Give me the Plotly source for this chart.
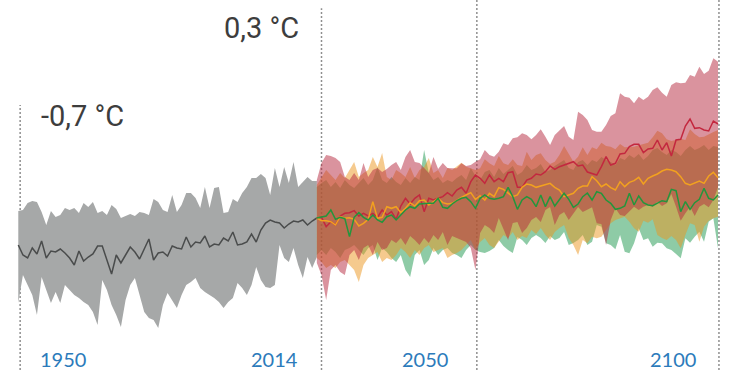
import plotly.graph_objects as go

# ---------------- data (°C anomaly) ----------------
hist_years = list(range(1950, 2015))
fut_years = list(range(2014, 2101))

hist_upper = [0.54,0.57,0.78,0.84,0.81,0.51,0.12,0.54,0.36,0.42, 0.63,0.57,0.63,0.48,0.78,0.66,0.81,0.48,0.54,0.42,
              0.72,0.60,0.33,0.39,0.45,0.39,0.51,0.48,0.42,0.90, 0.81,0.57,0.51,1.02,0.51,0.72,1.08,1.08,0.93,0.63,
              1.26,0.63,1.23,1.26,0.48,0.51,0.90,0.81,1.08,1.26, 1.53,1.53,1.65,1.53,1.02,1.83,1.26,1.86,1.38,2.01,
              1.26,1.41,1.56,1.44,1.44]
hist_lower = [-2.22,-1.38,-1.68,-1.98,-2.58,-1.44,-1.83,-2.22,-1.89,-2.22, -1.68,-1.83,-1.98,-2.07,-2.19,-2.28,-2.49,-2.88,-1.53,-1.83,
              -2.28,-2.58,-2.94,-2.13,-1.68,-1.47,-1.98,-2.49,-2.67,-2.73, -2.97,-2.28,-1.92,-2.13,-2.37,-1.98,-1.68,-1.59,-1.47,-1.77,
              -1.89,-1.98,-2.07,-2.19,-2.37,-2.19,-2.07,-1.62,-1.77,-1.98, -1.68,-1.14,-1.53,-1.74,-1.77,-1.68,-0.48,-0.87,-0.99,-0.57,
              -1.08,-1.47,-0.84,-1.17,-0.84]
hist_mean = [-0.48,-0.78,-0.87,-0.57,-0.75,-0.36,-0.87,-0.66,-0.69,-0.60, -0.72,-0.87,-1.08,-0.66,-0.96,-0.84,-0.75,-0.51,-0.51,-0.93,
             -1.35,-0.78,-1.02,-0.78,-0.54,-0.69,-0.90,-0.60,-0.30,-0.93, -0.72,-0.69,-0.81,-0.51,-0.57,-0.60,-0.24,-0.54,-0.39,-0.42,
             -0.21,-0.54,-0.45,-0.48,-0.27,-0.36,-0.09,-0.48,-0.45,-0.39, -0.15,-0.39,-0.03,0.18,0.27,0.21,0.18,0.03,0.15,0.24,
             0.21,0.27,0.12,0.24,0.33]

red_upper = [1.47,1.98,2.22,2.19,2.13,2.01,1.56,1.47,1.68,1.47, 1.98,1.56,1.77,1.83,1.71,1.80,1.92,2.01,1.77,2.16,
             2.37,2.01,1.98,1.83,1.68,2.16,1.80,1.98,1.83,1.82, 1.82,1.97,1.89,1.92,2.02,2.09,2.37,2.22,2.17,2.32,
             2.57,2.52,2.72,2.75,2.87,2.82,2.69,2.82,2.99,2.77, 2.52,2.82,2.97,3.09,2.77,2.67,3.52,3.42,3.27,2.97,
             2.92,2.92,3.12,3.39,3.47,4.07,3.97,3.94,3.77,3.97, 3.87,3.97,4.17,4.25,4.09,3.97,4.32,4.40,4.37,4.39,
             4.62,4.57,4.87,4.65,4.75,5.12,5.02]
red_lower = [-1.02,-1.38,-2.13,-1.23,-1.08,-1.29,-1.38,-0.78,-0.63,-0.93, -0.57,-0.48,-0.78,-0.39,-0.63,-0.57,-0.33,-0.42,-0.27,-0.48,
             -0.21,-0.33,-0.48,-0.27,-0.42,-0.18,-0.33,-0.09,-0.48,-0.21, -0.27,-0.33,-0.39,-0.57,-1.23,-0.12,0.12,0.03,-0.12,0.33,
             -0.03,-0.33,0.18,0.21,-0.12,0.03,0.27,0.36,0.21,0.57, 0.66,0.12,0.42,0.51,0.27,0.48,0.66,0.51,0.57,0.65,
             0.17,0.15,-0.48,0.27,0.62,0.42,0.39,0.52,0.67,0.57, 0.67,0.72,0.67,0.82,0.69,0.77,1.05,0.67,0.25,0.47,
             0.67,0.39,0.67,0.75,0.65,0.87,1.25]
red_mean = [0.33,0.35,0.07,0.22,0.12,0.39,0.47,0.49,0.55,0.39, 0.47,0.39,0.47,0.35,0.57,0.42,0.52,0.29,0.69,0.92,
            0.75,0.92,1.02,0.52,0.92,0.87,0.92,0.97,1.09,0.99, 1.17,1.25,1.07,1.42,1.62,1.52,1.37,1.62,1.42,1.52,
            1.42,1.69,1.72,1.25,1.25,1.47,1.52,1.65,1.62,1.72, 1.89,1.79,1.87,1.92,1.95,2.02,1.89,1.92,1.71,1.67,
            1.62,1.87,2.17,1.92,1.97,2.25,2.27,2.47,2.54,2.54, 2.29,2.40,2.42,2.67,2.37,2.59,2.19,2.67,2.69,3.09,
            3.30,3.02,3.04,2.97,2.94,3.24,3.15]

orange_upper = [1.32,1.56,1.77,1.62,1.47,1.68,1.53,1.77,2.01,1.56, 1.68,1.77,2.16,1.86,2.28,1.56,1.47,1.77,1.68,1.56,
                1.86,1.53,1.77,1.86,2.13,1.68,1.77,1.53,1.83,1.77, 1.87,1.99,1.87,1.82,1.77,1.82,2.09,1.97,1.89,2.19,
                1.97,1.92,2.09,1.92,1.89,2.32,2.07,2.22,2.27,2.07, 1.95,2.02,2.22,2.49,2.27,2.02,2.17,2.45,2.22,2.45,
                2.39,2.59,2.49,2.47,2.39,2.55,2.45,2.45,2.47,2.51, 2.54,2.59,2.75,2.95,2.87,2.69,2.64,2.67,2.71,2.67,
                2.99,2.85,2.75,2.77,2.85,2.91,2.97]
orange_lower = [-0.87,-0.99,-1.17,-1.08,-1.17,-0.99,-0.93,-1.08,-1.23,-1.59, -1.08,-0.87,-0.78,-0.69,-0.99,-0.87,-0.93,-0.78,-0.57,-0.69,
                -0.87,-0.63,-0.78,-0.57,-0.48,-0.69,-0.63,-0.57,-0.87,-0.78, -0.72,-0.63,-0.48,-0.33,-0.63,-0.39,-0.27,-0.48,-0.57,-0.39,
                -0.18,-0.27,-0.09,-0.33,-0.21,-0.27,-0.03,-0.15,0.03,-0.18, -0.33,-0.09,0.03,0.12,-0.27,-0.48,-0.78,-0.33,-0.43,-0.23,
                -0.28,-0.23,-0.03,0.17,0.27,0.32,0.37,0.22,0.02,-0.08, 0.25,0.19,0.29,-0.18,-0.27,-0.33,-0.21,-0.33,-0.58,-0.18,
                0.17,0.12,-0.38,0.07,0.25,0.32,0.37]
orange_mean = [0.33,0.25,0.25,0.22,0.12,0.37,0.32,0.34,0.29,0.09, 0.17,0.29,0.82,0.32,0.35,0.67,0.62,0.67,0.49,0.62,
               0.79,0.69,0.85,0.87,0.72,0.82,0.92,0.79,0.75,0.77, 0.87,0.95,1.02,1.09,0.89,1.00,0.87,1.07,0.97,1.24,
               1.19,1.07,0.97,1.02,1.25,1.35,1.32,1.25,1.29,1.32, 1.37,1.25,1.17,0.97,1.02,1.07,1.22,1.29,1.29,1.57,
               1.45,1.27,1.35,1.24,1.17,1.42,1.27,1.40,1.45,1.55, 1.35,1.52,1.59,1.65,1.74,1.79,1.77,1.72,1.57,1.37,
               1.32,1.39,1.44,1.37,1.59,1.70,1.54]

green_upper = [1.26,1.38,1.47,1.26,1.41,1.23,1.47,1.32,1.23,1.38, 1.53,1.32,1.47,1.86,1.47,1.38,1.56,1.41,1.32,1.53,
               1.38,1.56,1.47,2.37,1.68,1.47,1.56,1.38,1.47,1.41, 1.53,1.62,1.47,1.83,1.59,1.47,1.71,1.77,1.56,1.83,
               1.65,1.77,1.89,1.62,1.71,1.92,1.77,1.83,1.95,1.71, 1.77,1.89,1.98,2.07,1.83,1.77,2.01,2.07,1.92,2.07,
               2.01,2.16,2.07,2.01,1.92,2.13,2.07,2.22,2.13,2.25, 2.07,2.19,2.37,2.43,2.31,2.22,2.37,2.31,2.19,2.37,
               2.49,2.37,2.43,2.52,2.37,2.49,2.46]
green_lower = [-0.78,-0.63,-0.78,-0.57,-0.69,-0.87,-0.63,-0.57,-0.48,-0.63, -0.78,-0.57,-0.48,-0.93,-0.57,-0.69,-0.87,-0.99,-0.78,-1.23,
               -1.44,-0.78,-0.63,-1.08,-0.93,-0.57,-0.78,-0.63,-0.57,-0.72, -0.78,-0.87,-0.63,-0.48,-0.63,-0.69,-0.72,-0.66,-0.57,-0.33,
               -0.51,-0.63,-0.72,-0.24,-0.33,-0.48,-0.27,-0.18,-0.27,-0.42, -0.21,-0.33,-0.27,-0.09,-0.48,-0.42,-0.33,-0.18,-0.48,-0.38,
               0.12,0.07,-0.43,-0.48,-0.61,-0.18,-0.68,-0.73,-0.43,0.02, -0.33,-0.28,-0.53,-0.41,-0.43,-0.58,-0.63,-0.75,-0.88,-0.28,
               -0.41,-0.23,-0.08,-0.38,0.22,0.32,-0.58]
green_mean = [0.33,0.37,0.39,0.57,0.29,0.35,0.31,-0.23,0.35,0.49, 0.35,0.27,0.42,0.27,0.20,0.37,0.42,0.27,0.42,0.57,
              0.67,0.62,0.75,0.77,0.77,0.77,0.92,0.65,0.62,0.75, 0.85,0.92,0.95,0.82,0.62,0.92,1.02,0.92,0.89,0.92,
              0.97,1.25,0.97,0.59,0.87,0.97,0.89,0.67,1.02,0.67, 0.97,0.69,0.87,1.07,0.89,0.65,0.75,0.97,1.08,0.87,
              1.12,1.07,0.87,0.77,0.59,0.62,0.69,1.07,0.72,0.99, 0.79,0.72,0.70,0.77,0.85,0.82,1.19,1.15,0.52,0.82,
              0.59,0.79,0.89,1.22,0.92,0.87,1.02]

# marker lines (years) and labels
vline_years = [1950.4, 2015.0, 2048.3, 2100.2]
vline_tops = [0.716, 0.978, 1.0, 1.0]
year_labels = ["1950", "2014", "2050", "2100"]
temp_labels = ["-0,7 °C", "0,3 °C"]

# ---------------- figure ----------------
fig = go.Figure()

def band(x, up, lo, fillcolor):
    fig.add_trace(go.Scatter(x=x, y=up, mode="lines", line=dict(width=0),
                             hoverinfo="skip", showlegend=False))
    fig.add_trace(go.Scatter(x=x, y=lo, mode="lines", line=dict(width=0),
                             fill="tonexty", fillcolor=fillcolor,
                             hoverinfo="skip", showlegend=False))

band(hist_years, hist_upper, hist_lower, "#a6a8a8")
band(fut_years, green_upper, green_lower, "rgba(29,151,77,0.5)")
band(fut_years, orange_upper, orange_lower, "rgba(236,150,30,0.5)")
band(fut_years, red_upper, red_lower, "rgba(181,39,61,0.5)")

def line(x, y, color):
    fig.add_trace(go.Scatter(x=x, y=y, mode="lines", line=dict(color=color, width=1.5),
                             hoverinfo="skip", showlegend=False))

line(hist_years, hist_mean, "#4a4c4c")
line(fut_years, red_mean, "#c3283f")
line(fut_years, orange_mean, "#f2a11f")
line(fut_years, green_mean, "#23963c")

for xv, top in zip(vline_years, vline_tops):
    fig.add_shape(type="line", xref="x", yref="paper", x0=xv, x1=xv, y0=0, y1=top,
                  line=dict(color="#8f8f8f", width=1.5, dash="2px,2px"), layer="below")

label_pos = [(38, "left"), (300, "right"), (450, "right"), (698, "right")]
for txt, (px, anchor) in zip(year_labels, label_pos):
    fig.add_annotation(text=txt, xref="paper", yref="paper", x=px / 735, y=(370 - 359) / 370,
                       xanchor=anchor, yanchor="middle", showarrow=False,
                       font=dict(family="Lato", size=20, color="#2c7bbb"))

fig.add_annotation(text=temp_labels[0], xref="paper", yref="paper", x=39 / 735, y=(370 - 116) / 370,
                   xanchor="left", yanchor="middle", showarrow=False,
                   font=dict(family="Roboto", size=29, color="#3d3d3d"))
fig.add_annotation(text=temp_labels[1], xref="paper", yref="paper", x=301 / 735, y=(370 - 28) / 370,
                   xanchor="right", yanchor="middle", showarrow=False,
                   font=dict(family="Roboto", size=29, color="#3d3d3d"))

fig.update_layout(
    width=735, height=370,
    margin=dict(l=0, r=0, t=0, b=0),
    paper_bgcolor="white", plot_bgcolor="white",
    showlegend=False,
    xaxis=dict(range=[1946.08, 2103.64], visible=False, fixedrange=True),
    yaxis=dict(range=[-4.23, 6.87], visible=False, fixedrange=True),
)

fig.write_html("out.html", config={"displayModeBar": False},
               post_script="document.body.style.margin='0';document.body.style.overflow='hidden';")
